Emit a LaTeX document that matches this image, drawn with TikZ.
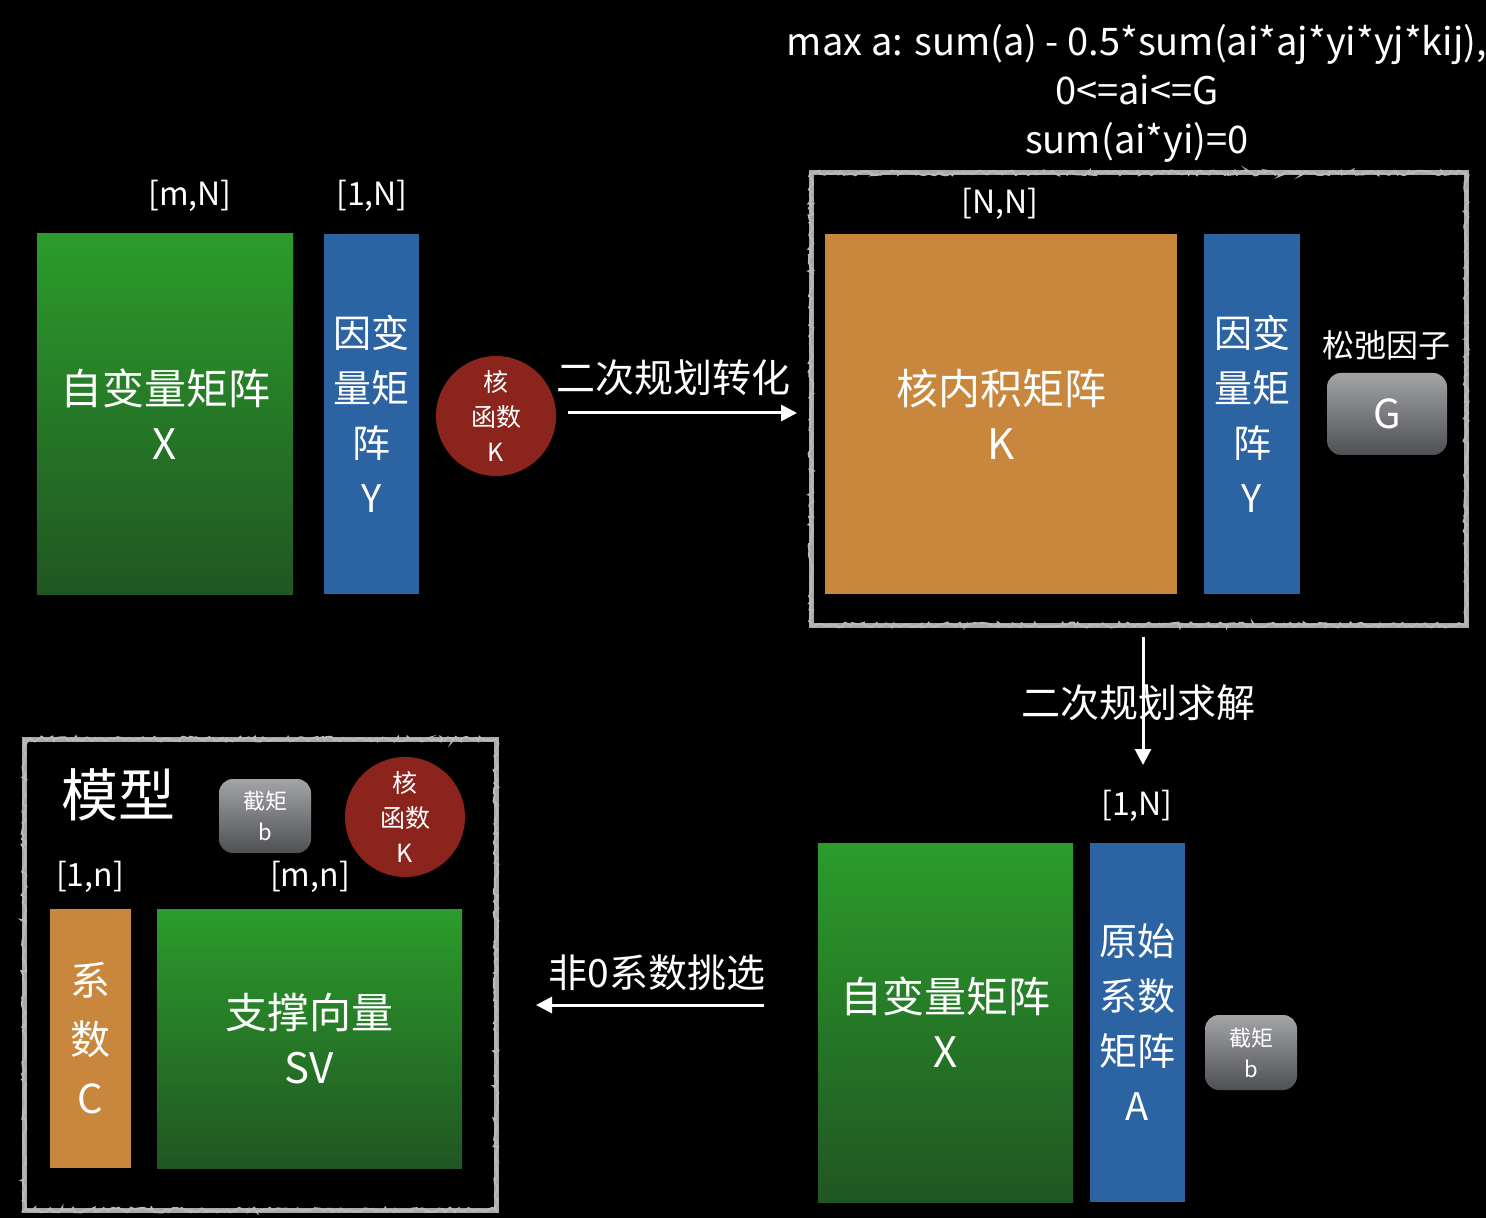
\documentclass[tikz,border=0pt]{standalone}
\usepackage{fontspec}
\setmainfont{Noto Sans CJK SC}
\usetikzlibrary{arrows.meta,decorations.pathmorphing}
\newcommand\fsz[2]{\fontsize{#1}{#2}\selectfont}
\definecolor{grtop}{HTML}{2B9C2B}
\definecolor{grbot}{HTML}{205622}
\definecolor{bluebox}{HTML}{2C63A2}
\definecolor{orbox}{HTML}{C8873C}
\definecolor{redcirc}{HTML}{8B241D}
\definecolor{btntop}{HTML}{A2A4A6}
\definecolor{btnbot}{HTML}{4E5054}
\definecolor{frame}{HTML}{A9A9A9}
\begin{document}
\begin{tikzpicture}[x=0.5pt,y=-0.5pt,
  every node/.style={text=white, inner sep=0pt, outer sep=0pt},
  greenbox/.style={anchor=north west, top color=grtop, bottom color=grbot, align=center, font=\fsz{21pt}{27.5pt}},
  bluecol/.style={anchor=north west, fill=bluebox, align=center, font=\fsz{19pt}{27.5pt}},
  orangebox/.style={anchor=north west, fill=orbox, align=center, font=\fsz{21pt}{27.5pt}},
  kcircle/.style={circle, fill=redcirc, minimum size=60pt, align=center, font=\fsz{12.5pt}{17.5pt}},
  btn/.style={anchor=north west, rounded corners=7pt, top color=btntop, bottom color=btnbot, align=center, font=\fsz{11pt}{15.5pt}},
  dimlabel/.style={font=\fsz{16pt}{16pt}},
  arrlabel/.style={font=\fsz{19.5pt}{19.5pt}},
  arr/.style={draw=white, line width=1.5pt, -{Triangle[length=8pt,width=8pt]}},
  framebox/.style={draw=frame, line width=2.5pt},
  frameedge/.style={draw=frame!80!white, line width=1pt, decorate, decoration={random steps, segment length=1.5pt, amplitude=1.2pt}}
]
\fill[black] (0,0) rectangle (1486,1218);
\useasboundingbox (0,0) rectangle (1486,1218);

% ---------- top formula ----------
\node[align=center, font=\fsz{19pt}{24.5pt}] (formula) at (1137,93)
  {max a: sum(a) - 0.5*sum(ai*aj*yi*yj*kij),\\0<=ai<=G\\sum(ai*yi)=0};

% ---------- left group ----------
\node[dimlabel] (lmN) at (190,196) {[m,N]};
\node[dimlabel] (l1N) at (372,196) {[1,N]};
\node[greenbox, minimum width=128pt, minimum height=180pt] (gx1) at (37,234) {自变量矩阵\\X};
\node[bluecol, minimum width=47.5pt, minimum height=180pt] (by1) at (324,234) {因变\\量矩\\阵\\Y};
\node[kcircle] (kc1) at (496,416) {核\\函数\\K};

% ---------- right top group ----------
\path[framebox] (811,173) rectangle (1466,625);
\path[frameedge] (811,173) rectangle (1466,625);
\node[minimum width=327.5pt, minimum height=226pt, anchor=north west] (rbox) at (811,173) {};
\node[dimlabel] (lNN) at (1000,204) {[N,N]};
\node[orangebox, minimum width=176pt, minimum height=180pt] (kmat) at (825,234) {核内积矩阵\\K};
\node[bluecol, minimum width=48pt, minimum height=180pt] (by2) at (1204,234) {因变\\量矩\\阵\\Y};
\node[font=\fsz{16pt}{16pt}] (slack) at (1386,345) {松弛因子};
\node[btn, minimum width=60pt, minimum height=41pt, font=\fsz{20pt}{20pt}] (gbtn) at (1327,373) {G};

% ---------- bottom right group ----------
\node[dimlabel] (l1N2) at (1137,806) {[1,N]};
\node[greenbox, minimum width=127.5pt, minimum height=179.5pt] (gx2) at (818,843) {自变量矩阵\\X};
\node[bluecol, minimum width=47.5pt, minimum height=179.5pt] (ba) at (1090,843) {原始\\系数\\矩阵\\A};
\node[btn, minimum width=46pt, minimum height=37.5pt] (bbtn2) at (1205,1015) {截矩\\b};

% ---------- bottom left (model) ----------
\path[framebox] (24,739) rectangle (496,1210);
\path[frameedge] (24,739) rectangle (496,1210);
\node[minimum width=236pt, minimum height=235.5pt, anchor=north west] (lbox) at (24,739) {};
\node[font=\fsz{28.5pt}{28.5pt}] (model) at (118,795) {模型};
\node[btn, minimum width=46pt, minimum height=37pt] (bbtn1) at (219,779) {截矩\\b};
\node[kcircle] (kc2) at (405,817) {核\\函数\\K};
\node[dimlabel] (l1n) at (90,877) {[1,n]};
\node[dimlabel] (lmn) at (310,877) {[m,n]};
\node[orangebox, minimum width=40.5pt, minimum height=129.5pt, font=\fsz{20pt}{29.5pt}] (coefc) at (50,909) {系\\数\\C};
\node[greenbox, minimum width=152.5pt, minimum height=129.5pt] (sv) at (157,909) {支撑向量\\SV};

% ---------- connectors ----------
\draw[arr] ([xshift=6pt,yshift=1.5pt]kc1.east) -- ([xshift=-7pt,yshift=1.5pt]kc1.east -| rbox.west)
  node[arrlabel, midway, xshift=-4.5pt, yshift=17.5pt] (lab1) {二次规划转化};
\draw[arr] ([xshift=2.25pt,yshift=-6pt]rbox.south) -- ([xshift=2.25pt,yshift=-70pt]rbox.south)
  node[arrlabel, midway, xshift=-2.5pt, yshift=-1pt] (lab2) {二次规划求解};
\coordinate (p3) at ([xshift=-27pt,yshift=8.75pt]gx2.west);
\draw[arr, shorten >=20pt] (p3) -- (p3 -| lbox.east)
  node[arrlabel, midway, xshift=13.5pt, yshift=16pt] (lab3) {非0系数挑选};
\end{tikzpicture}
\end{document}
